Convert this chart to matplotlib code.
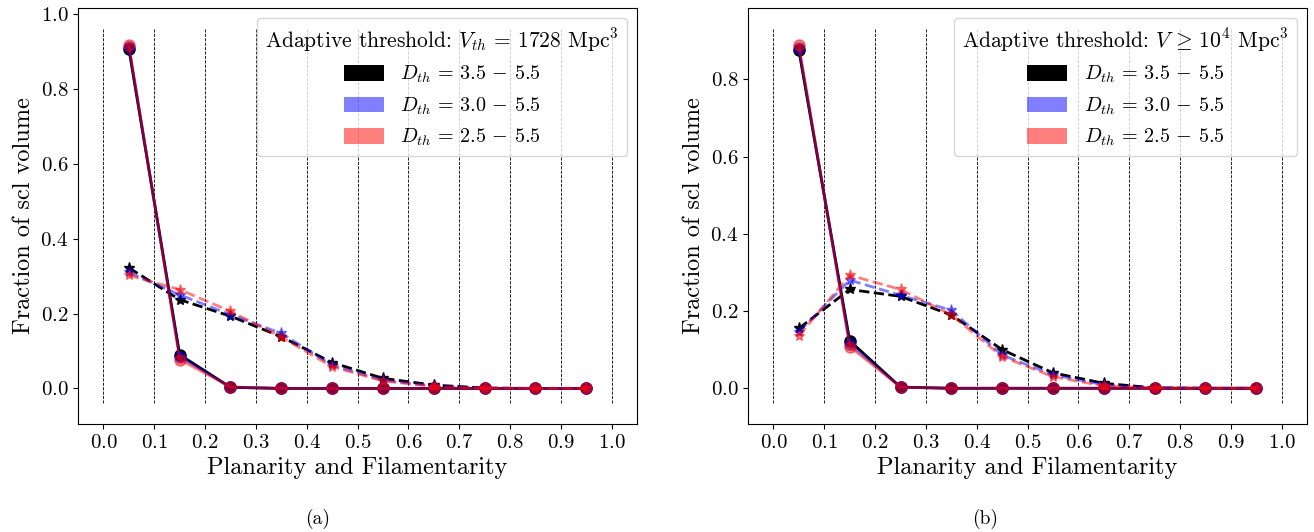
import matplotlib
matplotlib.use('Agg')
import matplotlib.pyplot as plt
from matplotlib.patches import Patch
import numpy as np

plt.rcParams['font.family'] = 'serif'
plt.rcParams['font.serif'] = ['cmr10']
plt.rcParams['mathtext.fontset'] = 'cm'
plt.rcParams['axes.formatter.use_mathtext'] = True

# bin centres of the shapefinder histograms
bins = [0.05, 0.15, 0.25, 0.35, 0.45, 0.55, 0.65, 0.75, 0.85, 0.95]
labels = [r'$D_{th}\,=\,3.5\,-\,5.5$', r'$D_{th}\,=\,3.0\,-\,5.5$', r'$D_{th}\,=\,2.5\,-\,5.5$']
colors = ['k', 'blue', 'red']
alphas = [1.0, 0.5, 0.5]

# (a) V_th = 1728 Mpc^3
plan_a = [
    [0.907, 0.090, 0.003, 0.0, 0.0, 0.0, 0.0, 0.0, 0.0, 0.0],
    [0.912, 0.085, 0.003, 0.0, 0.0, 0.0, 0.0, 0.0, 0.0, 0.0],
    [0.918, 0.077, 0.004, 0.0, 0.0, 0.0, 0.0, 0.0, 0.0, 0.0],
]
fil_a = [
    [0.322, 0.237, 0.193, 0.138, 0.069, 0.027, 0.009, 0.001, 0.0, 0.0],
    [0.310, 0.250, 0.197, 0.147, 0.062, 0.022, 0.007, 0.001, 0.0, 0.0],
    [0.302, 0.264, 0.206, 0.137, 0.058, 0.020, 0.005, 0.001, 0.0, 0.0],
]

# (b) V >= 1e4 Mpc^3
plan_b = [
    [0.875, 0.123, 0.003, 0.0, 0.0, 0.0, 0.0, 0.0, 0.0, 0.0],
    [0.882, 0.115, 0.003, 0.0, 0.0, 0.0, 0.0, 0.0, 0.0, 0.0],
    [0.889, 0.108, 0.003, 0.0, 0.0, 0.0, 0.0, 0.0, 0.0, 0.0],
]
fil_b = [
    [0.155, 0.256, 0.238, 0.190, 0.100, 0.040, 0.013, 0.001, 0.0, 0.0],
    [0.146, 0.280, 0.241, 0.202, 0.086, 0.035, 0.009, 0.001, 0.0, 0.0],
    [0.136, 0.293, 0.256, 0.190, 0.082, 0.030, 0.006, 0.001, 0.0, 0.0],
]

titles = [r'Adaptive threshold: $V_{th}\,=\,1728$ Mpc$^3$',
          r'Adaptive threshold: $V\,\geq\,10^4$ Mpc$^3$']

fig = plt.figure(figsize=(13.14, 5.32), dpi=100)
ax1 = fig.add_axes([0.0594, 0.203, 0.4254, 0.782])
ax2 = fig.add_axes([0.5693, 0.203, 0.4254, 0.782])


def draw_panel(ax, plan, fil, title, ylim, yticks):
    for x in np.arange(0, 1.01, 0.1):
        ax.axvline(x, ymin=0.05, ymax=0.95, color='k', ls='--', lw=0.6)
    for i in range(3):
        ax.plot(bins, plan[i], '-o', color=colors[i], alpha=alphas[i], lw=2, ms=8)
        ax.plot(bins, fil[i], '--*', color=colors[i], alpha=alphas[i], lw=2, ms=8)
    handles = [Patch(facecolor=colors[i], edgecolor='none', alpha=alphas[i], label=labels[i])
               for i in range(3)]
    ax.legend(handles=handles, title=title, loc='upper right', fontsize=14.5,
              title_fontsize=15.5, handleheight=0.8)
    ax.set_xlim(-0.05, 1.05)
    ax.set_ylim(*ylim)
    ax.set_xticks(np.arange(0, 1.01, 0.1))
    ax.set_yticks(yticks)
    ax.tick_params(labelsize=15)
    ax.set_xlabel('Planarity and Filamentarity', fontsize=17.5)
    ax.set_ylabel('Fraction of scl volume', fontsize=17.5)


draw_panel(ax1, plan_a, fil_a, titles[0], (-0.095, 1.016), np.arange(0, 1.01, 0.2))
draw_panel(ax2, plan_b, fil_b, titles[1], (-0.0925, 0.985), np.arange(0, 0.81, 0.2))

fig.text(0.242, 0.024, '(a)', ha='center', va='center', fontsize=14)
fig.text(0.75, 0.024, '(b)', ha='center', va='center', fontsize=14)

fig.savefig('out.png', dpi=100)
